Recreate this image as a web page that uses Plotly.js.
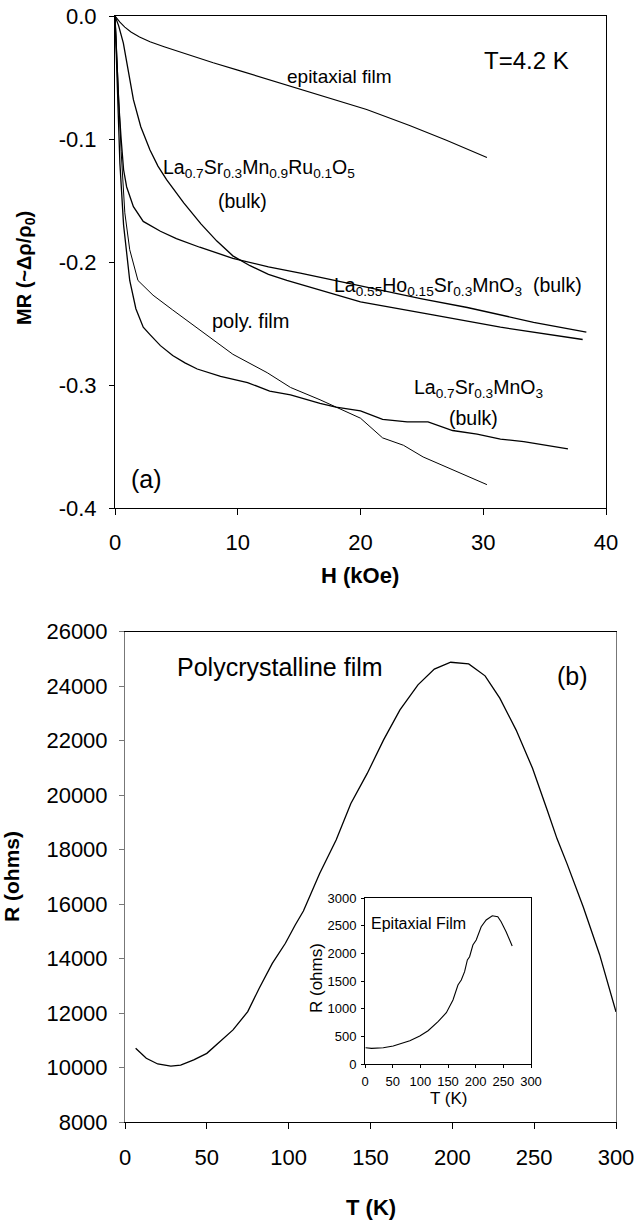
<!DOCTYPE html>
<html>
<head>
<meta charset="utf-8">
<script src="https://cdn.plot.ly/plotly-3.0.1.min.js"></script>
<style>html,body{margin:0;padding:0;background:#fff;}#chart{width:637px;height:1222px;}</style>
</head>
<body>
<div id="chart"></div>
<script>
// ---------- Panel (a): MR vs H at T = 4.2 K ----------
const epiH  = [0, 0.4, 0.8, 1.3, 2, 2.85, 4, 5.5, 8, 10, 12, 14, 16.5, 20.5, 24, 27, 30.3];
const epiMR = [0, -0.005, -0.009, -0.013, -0.017, -0.021, -0.025, -0.030, -0.038, -0.044, -0.050, -0.056, -0.064, -0.076, -0.089, -0.101, -0.115];

const ruH  = [0, 0.3, 0.68, 1.0, 1.5, 2.1, 2.85, 3.5, 4.2, 5.6, 7.0, 8.3, 9.6, 11.0, 12.5, 14, 16.7, 20, 25.9, 31.4, 38.1];
const ruMR = [0, -0.008, -0.022, -0.040, -0.068, -0.090, -0.109, -0.122, -0.133, -0.152, -0.169, -0.183, -0.195, -0.203, -0.210, -0.215, -0.223, -0.2325, -0.243, -0.253, -0.263];

const hoH  = [0, 0.15, 0.3, 0.5, 0.7, 0.95, 1.5, 2.3, 3.7, 5.0, 6.9, 9.6, 12.5, 15.1, 18, 21.6, 25, 28.7, 34.1, 38.4];
const hoMR = [0, -0.035, -0.07, -0.10, -0.125, -0.139, -0.155, -0.167, -0.175, -0.181, -0.188, -0.197, -0.204, -0.209, -0.215, -0.223, -0.230, -0.237, -0.249, -0.257];

const polyH  = [0, 0.2, 0.5, 0.8, 1.2, 1.87, 3.1, 4.7, 6.9, 9.6, 12.4, 14.3, 16.7, 18, 20, 21.8, 23.5, 25.1, 27.5, 30.3];
const polyMR = [0, -0.05, -0.11, -0.16, -0.19, -0.215, -0.227, -0.239, -0.255, -0.275, -0.290, -0.302, -0.312, -0.318, -0.327, -0.343, -0.349, -0.3585, -0.369, -0.381];

const lsmoH  = [0, 0.2, 0.4, 0.7, 1.0, 1.2, 1.7, 2.3, 2.85, 3.7, 4.7, 5.7, 6.7, 8.6, 10.8, 12.6, 14.3, 16.7, 18, 20, 21.8, 23.8, 25.5, 27.5, 29.5, 31.4, 33.3, 36.9];
const lsmoMR = [0, -0.07, -0.12, -0.17, -0.20, -0.215, -0.238, -0.253, -0.259, -0.268, -0.276, -0.282, -0.287, -0.293, -0.298, -0.305, -0.308, -0.315, -0.318, -0.321, -0.328, -0.330, -0.330, -0.337, -0.340, -0.344, -0.346, -0.352];

const topXTicks = [0, 10, 20, 30, 40];
const topYTicks = [-0.4, -0.3, -0.2, -0.1, 0.0];
const topYLabels = ['-0.4', '-0.3', '-0.2', '-0.1', '0.0'];

// ---------- Panel (b): polycrystalline film R vs T ----------
const polyT = [6.5, 13, 20, 28, 34, 42, 50, 57, 66, 75, 82, 90, 98, 104, 109, 119, 129, 138, 148, 158, 168, 179, 189, 199, 210, 220, 229, 239, 249, 258, 264, 270, 280, 290, 300];
const polyR = [10720, 10350, 10140, 10060, 10100, 10290, 10530, 10900, 11390, 12060, 12920, 13830, 14570, 15240, 15750, 17140, 18360, 19700, 20800, 22030, 23130, 24050, 24630, 24880, 24820, 24380, 23560, 22390, 20990, 19450, 18400, 17500, 15900, 14150, 12050];
const botXTicks = [0, 50, 100, 150, 200, 250, 300];
const botYTicks = [8000, 10000, 12000, 14000, 16000, 18000, 20000, 22000, 24000, 26000];

// ---------- Inset: epitaxial film R vs T ----------
const epiT = [1, 12, 33, 51, 81, 99, 114, 132, 147, 159, 168, 174, 180, 185, 189, 195, 201, 210, 219, 230, 240, 246, 255, 266];
const epiR = [295, 283, 295, 325, 421, 506, 602, 765, 928, 1157, 1428, 1518, 1668, 1880, 1939, 2151, 2241, 2481, 2602, 2680, 2662, 2572, 2391, 2133];
const insXTicks = [0, 50, 100, 150, 200, 250, 300];
const insYTicks = [0, 500, 1000, 1500, 2000, 2500, 3000];

// ---------- helpers: pixel -> paper ----------
const W = 637, H = 1222;
const px = x => x / W;
const py = y => 1 - y / H;

const FONT = 'Arial, "Liberation Sans", sans-serif';
const line = (w) => ({color: '#000', width: w});

const traces = [
  {x: epiH, y: epiMR, mode: 'lines', line: line(1.1), xaxis: 'x', yaxis: 'y'},
  {x: ruH, y: ruMR, mode: 'lines', line: line(1.3), xaxis: 'x', yaxis: 'y'},
  {x: hoH, y: hoMR, mode: 'lines', line: line(1.3), xaxis: 'x', yaxis: 'y'},
  {x: polyH, y: polyMR, mode: 'lines', line: line(1.0), xaxis: 'x', yaxis: 'y'},
  {x: lsmoH, y: lsmoMR, mode: 'lines', line: line(1.3), xaxis: 'x', yaxis: 'y'},
  {x: polyT, y: polyR, mode: 'lines', line: line(1.3), xaxis: 'x2', yaxis: 'y2'},
  {x: epiT, y: epiR, mode: 'lines', line: line(1.1), xaxis: 'x3', yaxis: 'y3'}
];

const axBase = {
  showgrid: false, zeroline: false, showline: true, linecolor: '#000', linewidth: 1,
  mirror: true, ticks: 'outside', tickcolor: '#000', tickwidth: 1, ticklen: 6,
  tickfont: {family: FONT, size: 22, color: '#000'}, fixedrange: true
};

const ann = (text, x, y, size, opts) => Object.assign({
  text: text, x: px(x), y: py(y), xref: 'paper', yref: 'paper',
  xanchor: 'center', yanchor: 'middle', showarrow: false,
  font: {family: FONT, size: size, color: '#000'}
}, opts || {});

const layout = {
  width: W, height: H,
  margin: {l: 0, r: 0, t: 0, b: 0},
  paper_bgcolor: '#fff', plot_bgcolor: '#fff',
  showlegend: false,
  xaxis: Object.assign({}, axBase, {
    domain: [px(115), px(606)], range: [0, 40], tickvals: topXTicks,
    ticktext: topXTicks.map(String), anchor: 'y', ticklabelstandoff: 9
  }),
  yaxis: Object.assign({}, axBase, {
    domain: [py(508), py(16)], range: [-0.4, 0], tickvals: topYTicks,
    ticktext: topYLabels, anchor: 'x', ticklen: 5, ticklabelstandoff: 8
  }),
  xaxis2: Object.assign({}, axBase, {
    domain: [px(125), px(616)], range: [0, 300], tickvals: botXTicks,
    ticktext: botXTicks.map(String), anchor: 'y2', ticklabelstandoff: 9
  }),
  yaxis2: Object.assign({}, axBase, {
    domain: [py(1122.3), py(631.7)], range: [8000, 26000], tickvals: botYTicks,
    ticktext: botYTicks.map(String), anchor: 'x2', ticklen: 5, ticklabelstandoff: 7,
    linecolor: '#777', tickcolor: '#777'
  }),
  xaxis3: Object.assign({}, axBase, {
    domain: [px(365), px(531)], range: [0, 300], tickvals: insXTicks,
    ticktext: insXTicks.map(String), anchor: 'y3', ticklen: 3,
    tickfont: {family: FONT, size: 13, color: '#000'}, ticklabelstandoff: 2
  }),
  yaxis3: Object.assign({}, axBase, {
    domain: [py(1064), py(898)], range: [0, 3000], tickvals: insYTicks,
    ticktext: insYTicks.map(String), anchor: 'x3', ticklen: 3,
    tickfont: {family: FONT, size: 13, color: '#000'}, ticklabelstandoff: 2
  }),
  annotations: [
    ann('T=4.2 K', 526, 61, 24),
    ann('epitaxial film', 339, 77, 19),
    ann('La<sub>0.7</sub>Sr<sub>0.3</sub>Mn<sub>0.9</sub>Ru<sub>0.1</sub>O<sub>5</sub>', 259, 168, 19.5),
    ann('(bulk)', 242, 201, 19.5),
    ann('La<sub>0.55</sub>Ho<sub>0.15</sub>Sr<sub>0.3</sub>MnO<sub>3</sub>  (bulk)', 458, 286, 19.5),
    ann('poly. film', 250, 321, 20),
    ann('La<sub>0.7</sub>Sr<sub>0.3</sub>MnO<sub>3</sub>', 478, 388, 19.5),
    ann('(bulk)', 473, 418, 19.5),
    ann('(a)', 146, 479, 25),
    ann('<b>MR (~Δρ/ρ<sub>0</sub>)</b>', 26, 268, 20, {textangle: -90}),
    ann('<b>H (kOe)</b>', 360, 575, 22),
    ann('Polycrystalline film', 280, 667, 25),
    ann('(b)', 572, 676, 25),
    ann('<b>R (ohms)</b>', 11, 877, 21, {textangle: -90}),
    ann('<b>T (K)</b>', 371, 1207, 22),
    ann('Epitaxial Film', 418, 923, 16),
    ann('R (ohms)', 316, 978, 17, {textangle: -90}),
    ann('T (K)', 448, 1098, 17)
  ]
};

Plotly.newPlot('chart', traces, layout, {staticPlot: true, displayModeBar: false});
</script>
</body>
</html>
